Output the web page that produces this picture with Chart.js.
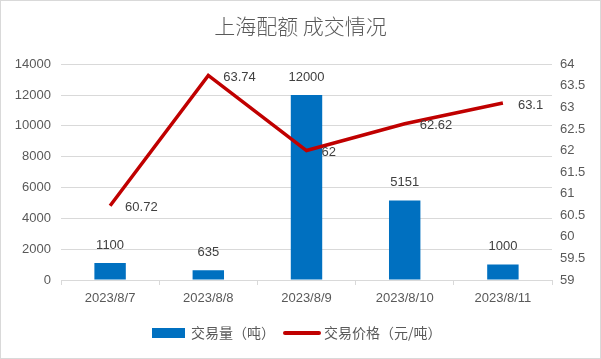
<!DOCTYPE html>
<html><head><meta charset="utf-8">
<script src="https://cdn.jsdelivr.net/npm/chart.js@4/dist/chart.umd.min.js"></script>
<style>html,body{margin:0;padding:0;background:#fff}#wrap{width:601px;height:359px}</style>
</head><body><div id="wrap"><canvas id="c" width="601" height="359"></canvas></div>
<script>
const categories = ["2023/8/7","2023/8/8","2023/8/9","2023/8/10","2023/8/11"];
const volume = [1100, 635, 12000, 5151, 1000];
const price = [60.72, 63.74, 62, 62.62, 63.1];
const leftTicks = [0,2000,4000,6000,8000,10000,12000,14000];
const rightTicks = [59,59.5,60,60.5,61,61.5,62,62.5,63,63.5,64];
const seriesNames = ['交易量（吨）','交易价格（元/吨）'];

const FONT = "'Liberation Sans', 'Noto Sans CJK SC', sans-serif";
const CJK = "'Noto Sans CJK SC', sans-serif";

const frame = {
  id:'frame',
  beforeDraw(chart){const c=chart.ctx;c.save();c.fillStyle='#fff';c.fillRect(0,0,chart.width,chart.height);c.restore();},
  afterDraw(chart){
    const c=chart.ctx;c.save();
    c.strokeStyle='#d9d9d9';c.lineWidth=1;c.strokeRect(0.5,0.5,chart.width-1,chart.height-1);
    // legend
    const y=333;
    c.font="14px "+CJK;c.fillStyle='#595959';c.textBaseline='middle';c.textAlign='left';
    const ds=chart.data.datasets;
    let x=152;
    c.fillStyle=ds[0].backgroundColor;c.fillRect(x,y-5,33,10);
    x+=39;c.fillStyle='#595959';c.fillText(seriesNames[0],x,y);
    x+=c.measureText(seriesNames[0]).width+8;
    c.strokeStyle=ds[1].borderColor;c.lineWidth=4;c.lineCap='round';
    c.beginPath();c.moveTo(x+2,y);c.lineTo(x+36,y);c.stroke();
    x+=41;c.fillStyle='#595959';c.fillText(seriesNames[1],x,y);
    c.restore();
  }
};
const labels = {
  id:'labels',
  afterDatasetsDraw(chart){
    const c=chart.ctx;c.save();c.font="13px "+FONT;c.fillStyle='#404040';c.textBaseline='middle';
    const m0=chart.getDatasetMeta(0);
    m0.data.forEach((el,i)=>{c.textAlign='center';c.fillText(String(volume[i]),el.x,el.y-18);});
    const m1=chart.getDatasetMeta(1);
    m1.data.forEach((el,i)=>{c.textAlign='left';c.fillText(String(price[i]),el.x+15,el.y+2);});
    c.restore();
  }
};

new Chart(document.getElementById('c'),{
  type:'bar',
  data:{labels:categories,datasets:[
    {type:'bar',label:seriesNames[0],data:volume,backgroundColor:'#0070C0',yAxisID:'y',barPercentage:0.64,categoryPercentage:0.5,order:2},
    {type:'line',label:seriesNames[1],data:price,borderColor:'#C00000',backgroundColor:'#C00000',borderWidth:3.5,pointRadius:0,tension:0,yAxisID:'y1',order:1}
  ]},
  options:{
    responsive:false,animation:false,
    layout:{padding:{left:0,right:0,top:0,bottom:49}},
    plugins:{
      title:{display:true,text:'上海配额 成交情况',color:'#595959',font:{family:CJK,size:21,weight:300},padding:{top:13,bottom:26}},
      legend:{display:false},
      tooltip:{enabled:false}
    },
    scales:{
      x:{grid:{display:true,drawOnChartArea:false,offset:true,color:'#d9d9d9',tickLength:5},border:{color:'#d9d9d9'},
         ticks:{color:'#595959',font:{family:FONT,size:13},padding:6},
         afterFit(s){s.height=30;}},
      y:{position:'left',min:0,max:14000,ticks:{stepSize:2000,color:'#595959',font:{family:FONT,size:13},padding:10,callback:v=>String(v)},
         afterBuildTicks(s){s.ticks=leftTicks.map(v=>({value:v}));},
         grid:{color:'#d9d9d9',drawTicks:false},border:{display:false},afterFit(s){s.width=61;}},
      y1:{position:'right',min:59,max:64,ticks:{stepSize:0.5,color:'#595959',font:{family:FONT,size:13},padding:8,callback:v=>String(v)},
         afterBuildTicks(s){s.ticks=rightTicks.map(v=>({value:v}));},
         grid:{display:false,drawTicks:false},border:{display:false},afterFit(s){s.width=49;}}
    }
  },
  plugins:[frame,labels]
});
</script></body></html>
